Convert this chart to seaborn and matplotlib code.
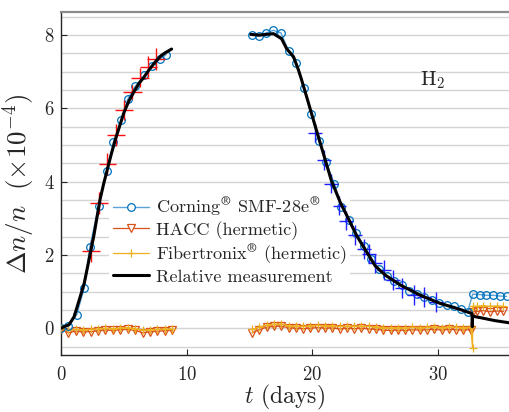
import matplotlib
matplotlib.use("Agg")
import matplotlib.pyplot as plt
from matplotlib.lines import Line2D
from matplotlib.ticker import MultipleLocator
import seaborn as sns

# Corning SMF-28e (circles)
corning_t_left = [0.0, 0.58, 1.25, 1.86, 2.3, 3.0, 3.64, 4.17, 4.8, 5.31, 5.9, 6.61, 7.23, 7.84, 8.37]
corning_y_left = [0.02, 0.05, 0.37, 1.11, 2.22, 3.35, 4.3, 5.07, 5.69, 6.25, 6.6, 6.9, 7.16, 7.34, 7.47]
corning_t_right = [15.2, 15.75, 16.3, 16.9, 17.5, 18.1, 18.7, 19.3, 19.9, 20.5, 21.1, 21.75, 22.3,
                   22.9, 23.5, 24.1, 24.7, 25.3, 25.9, 26.5, 27.1, 27.7, 28.3, 28.9, 29.5, 30.1,
                   30.7, 31.25, 31.8, 32.35, 32.75, 33.3, 33.85, 34.4, 34.9, 35.45]
corning_y_right = [8.0, 7.97, 8.06, 8.13, 8.06, 7.57, 7.24, 6.57, 5.84, 5.12, 4.53, 3.94, 3.32,
                   2.95, 2.6, 2.25, 1.9, 1.62, 1.42, 1.3, 1.17, 1.03, 0.93, 0.84, 0.76, 0.7,
                   0.64, 0.6, 0.52, 0.45, 0.93, 0.92, 0.9, 0.9, 0.88, 0.87]

# HACC (hermetic) and Fibertronix (hermetic)
hermetic_t_left = [0.0, 0.59, 1.18, 1.77, 2.36, 2.95, 3.54, 4.13, 4.72, 5.31, 5.9, 6.49, 7.08,
                   7.67, 8.26, 8.8]
hacc_y_left = [-0.02, -0.12, -0.08, -0.1, -0.09, -0.07, -0.05, -0.06, -0.04, -0.03, -0.06, -0.12,
               -0.1, -0.08, -0.07, -0.06]
fib_y_left = [0.0, -0.05, -0.03, -0.04, -0.03, -0.02, 0.0, -0.01, 0.01, 0.02, -0.01, -0.05, -0.04,
              -0.03, -0.02, -0.02]
hermetic_t_right = [15.2, 15.78, 16.36, 16.94, 17.52, 18.1, 18.68, 19.26, 19.84, 20.42, 21.0,
                    21.58, 22.16, 22.74, 23.32, 23.9, 24.48, 25.06, 25.64, 26.22, 26.8, 27.38,
                    27.96, 28.54, 29.12, 29.7, 30.28, 30.86, 31.44, 32.02, 32.6]
hacc_y_right = [-0.12, -0.04, 0.03, 0.05, 0.06, 0.01, 0.0, -0.01, 0.0, 0.02, 0.0, 0.01, -0.02, 0.0,
                -0.01, 0.0, -0.02, -0.03, -0.05, -0.06, -0.05, -0.06, -0.04, -0.05, -0.04, -0.03,
                -0.05, -0.03, -0.04, -0.05, -0.04]
fib_y_right = [-0.03, 0.03, 0.09, 0.11, 0.12, 0.07, 0.06, 0.05, 0.07, 0.08, 0.07, 0.07, 0.05, 0.06,
               0.06, 0.06, 0.05, 0.04, 0.02, 0.01, 0.02, 0.01, 0.03, 0.02, 0.03, 0.04, 0.02, 0.04,
               0.03, 0.02, 0.03]
hacc_t_end = [32.75, 33.07, 33.6, 34.13, 34.66, 35.2]
hacc_y_end = [0.45, 0.46, 0.48, 0.45, 0.47, 0.46]
fib_t_end = [32.74, 32.76, 33.07, 33.6, 34.13, 34.66, 35.2]
fib_y_end = [-0.55, 0.6, 0.6, 0.62, 0.6, 0.61, 0.6]

# relative measurement (black)
rel_t_left = [0.0, 0.3, 0.65, 1.05, 1.45, 1.85, 2.1, 2.35, 2.6, 2.85, 3.1, 3.4, 3.7, 4.0, 4.3,
              4.65, 5.0, 5.4, 5.8, 6.2, 6.6, 7.0, 7.5, 8.0, 8.5, 8.8]
rel_y_left = [0.0, 0.05, 0.1, 0.32, 0.77, 1.23, 1.65, 2.08, 2.5, 3.0, 3.5, 3.95, 4.35, 4.75, 5.12,
              5.5, 5.88, 6.2, 6.45, 6.68, 6.85, 7.05, 7.27, 7.45, 7.56, 7.62]
rel_t_right = [15.1, 15.8, 16.9, 17.55, 17.95, 18.5, 18.9, 19.15, 19.6, 20.0, 20.5, 21.0, 21.5,
               22.2, 22.85, 23.5, 24.3, 25.0, 25.8, 27.0, 28.6, 30.15, 31.7, 32.7, 32.72, 32.74,
               33.5, 34.5, 35.64]
rel_y_right = [8.02, 8.0, 8.04, 7.9, 7.63, 7.41, 7.04, 6.77, 6.25, 5.78, 5.2, 4.62, 4.04, 3.45,
               3.0, 2.54, 2.09, 1.7, 1.45, 1.18, 0.9, 0.68, 0.52, 0.4, 0.04, 0.33, 0.28, 0.21, 0.15]

# error crosses
red_t = [2.39, 3.03, 3.69, 4.36, 5.02, 5.68, 6.29, 6.96, 7.54]
red_y = [2.1, 3.42, 4.48, 5.28, 5.95, 6.45, 6.84, 7.14, 7.36]
red_xerr = [0.7, 0.7, 0.7, 0.7, 0.7, 0.75, 0.7, 0.7, 0.72]
red_yerr = [0.3, 0.3, 0.3, 0.3, 0.28, 0.2, 0.25, 0.28, 0.3]
blue_t = [20.24, 20.9, 21.5, 22.15, 22.7, 23.4, 24.1, 24.5, 25.0, 25.7, 26.4, 27.1, 28.1, 28.9, 29.8]
blue_y = [5.34, 4.59, 3.95, 3.35, 2.94, 2.54, 2.17, 2.04, 1.77, 1.58, 1.31, 1.09, 0.9, 0.86, 0.72]
blue_xerr = [0.55] * len(blue_t)
blue_yerr = [0.27] * len(blue_t)

legend_labels = [
    r"Corning$^{\circledR}$ SMF-28e$^{\circledR}$",
    "HACC (hermetic)",
    r"Fibertronix$^{\circledR}$ (hermetic)",
    "Relative measurement",
]

C_CORNING = "#0072BD"
C_CORNING_LINE = "#5AA2D8"
C_HACC = "#D95319"
C_FIB = "#EDB120"


def _segment(ax, t, y, **kws):
    sns.lineplot(x=t, y=y, ax=ax, estimator=None, sort=False, **kws)


sns.set_style("ticks")
plt.rcParams["font.family"] = ["cmr10", "DejaVu Serif"]
plt.rcParams["mathtext.fontset"] = "cm"
plt.rcParams["axes.unicode_minus"] = False
plt.rcParams["axes.formatter.use_mathtext"] = True

fig = plt.figure(figsize=(5.09, 4.12), dpi=100)
ax = fig.add_axes([0.1198, 0.1383, 0.8802, 0.8325])

corning_kw = dict(color=C_CORNING_LINE, lw=1.0, marker="o", markersize=5.5,
                  markerfacecolor="none", markeredgecolor=C_CORNING, markeredgewidth=0.9, zorder=3)
hacc_kw = dict(color=C_HACC, lw=0.9, marker="v", markersize=5.5,
               markerfacecolor="none", markeredgecolor=C_HACC, markeredgewidth=0.9, zorder=3)
fib_kw = dict(color=C_FIB, lw=0.9, marker="+", markersize=6,
              markeredgecolor=C_FIB, markeredgewidth=0.9, zorder=3)

for t, y in [(hermetic_t_left, hacc_y_left), (hermetic_t_right, hacc_y_right)]:
    _segment(ax, t, y, **hacc_kw)
_segment(ax, [hermetic_t_right[-1]] + hacc_t_end, [hacc_y_right[-1]] + hacc_y_end, **hacc_kw)
for t, y in [(hermetic_t_left, fib_y_left), (hermetic_t_right, fib_y_right)]:
    _segment(ax, t, y, **fib_kw)
_segment(ax, [hermetic_t_right[-1]] + fib_t_end, [fib_y_right[-1]] + fib_y_end, **fib_kw)
_segment(ax, corning_t_left, corning_y_left, **corning_kw)
_segment(ax, corning_t_right, corning_y_right, **corning_kw)

ax.errorbar(red_t, red_y, xerr=red_xerr, yerr=red_yerr, fmt="none", ecolor="#FF1010",
            elinewidth=1.0, capsize=0, zorder=4)
ax.errorbar(blue_t, blue_y, xerr=blue_xerr, yerr=blue_yerr, fmt="none", ecolor="#1F1FFF",
            elinewidth=1.0, capsize=0, zorder=4)

_segment(ax, rel_t_left, rel_y_left, color="black", lw=2.2, zorder=5)
_segment(ax, rel_t_right, rel_y_right, color="black", lw=2.2, zorder=5)

ax.text(29.6, 6.77, r"H$_2$", ha="center", va="center", fontsize=15)

ax.set_xlim(0, 35.64)
ax.set_ylim(-0.73, 8.63)
ax.set_xticks([0, 10, 20, 30])
ax.set_yticks([0, 2, 4, 6, 8])
ax.yaxis.set_minor_locator(MultipleLocator(0.5))
ax.grid(axis="y", which="both", color="#d4d4d4", lw=1.0, zorder=0)
ax.set_axisbelow(True)
ax.tick_params(axis="both", which="major", direction="in", length=4.5, width=0.8,
               labelsize=13.5, colors="#262626")
ax.tick_params(axis="x", pad=8)
ax.tick_params(axis="y", pad=4.5)
ax.tick_params(axis="both", which="minor", length=0)

for side in ("left", "bottom"):
    ax.spines[side].set_color("#262626")
    ax.spines[side].set_linewidth(1.0)
ax.spines["top"].set_color("#8c8c8c")
ax.spines["top"].set_linewidth(1.6)
ax.spines["right"].set_visible(False)

ax.set_xlabel(r"$t$ (days)", fontsize=17, labelpad=-1)
ax.set_ylabel(r"$\Delta n/n\ \ (\times 10^{-4})$", fontsize=19.5, labelpad=5)

handles = [
    Line2D([], [], color=C_CORNING_LINE, lw=1.0, marker="o", markersize=5.5,
           markerfacecolor="white", markeredgecolor=C_CORNING, markeredgewidth=0.9),
    Line2D([], [], color=C_HACC, lw=0.9, marker="v", markersize=5.5,
           markerfacecolor="white", markeredgecolor=C_HACC, markeredgewidth=0.9),
    Line2D([], [], color=C_FIB, lw=0.9, marker="+", markersize=6,
           markeredgecolor=C_FIB, markeredgewidth=0.9),
    Line2D([], [], color="black", lw=2.2),
]
leg = ax.legend(handles, legend_labels, loc="upper left", bbox_to_anchor=(0.108, 0.475),
                frameon=True, fancybox=False, facecolor="white", edgecolor="none",
                framealpha=1.0, fontsize=13.1, handlelength=2.0, handletextpad=0.35,
                borderpad=0.2, labelspacing=0.12, borderaxespad=0)
# keep the legend box under the data, but above the grid
leg.set_zorder(2)

fig.savefig("out.png", dpi=100)
